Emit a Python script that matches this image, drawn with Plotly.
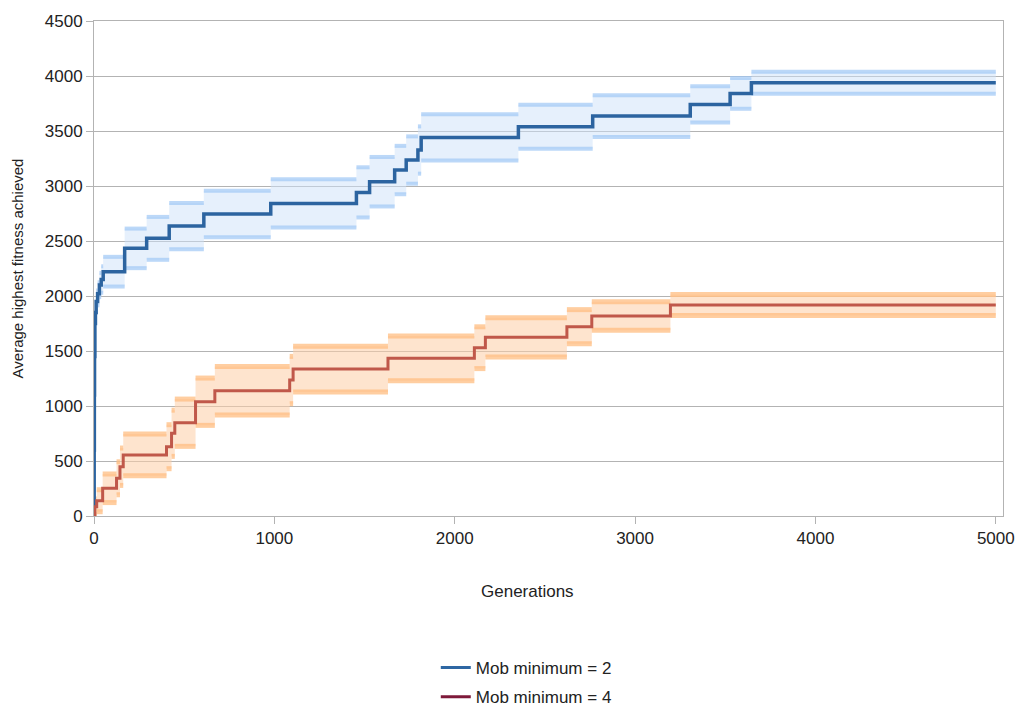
import plotly.graph_objects as go

# Series A: Mob minimum = 2
gen_a = [0, 1, 2, 3, 5, 8, 12, 20, 30, 40, 51, 170, 292, 417, 609, 980, 1455, 1528, 1667,
         1731, 1796, 1814, 2353, 2765, 3306, 3527, 3645, 5000]
fit_a = [100, 600, 1100, 1450, 1750, 1850, 1950, 2020, 2100, 2150, 2221, 2433, 2524, 2636,
         2745, 2842, 2942, 3039, 3145, 3236, 3327, 3442, 3539, 3636, 3742, 3842, 3939, 3939]
err_a = [50, 60, 70, 80, 90, 95, 100, 105, 110, 120, 135, 180, 195, 210, 212, 220, 228, 225,
         220, 215, 215, 211, 200, 190, 165, 140, 100, 100]

# Series B: Mob minimum = 4
gen_b = [0, 5, 15, 48, 125, 144, 162, 402, 430, 448, 563, 670, 1085, 1104, 1630, 2109, 2170,
         2622, 2760, 3196, 5000]
fit_b = [0, 85, 139, 252, 343, 448, 555, 630, 752, 848, 1039, 1139, 1236, 1336, 1433, 1530,
         1624, 1721, 1818, 1918, 1918]
err_b = [40, 70, 100, 130, 150, 170, 190, 200, 210, 215, 215, 220, 215, 208, 203, 190, 178,
         155, 130, 95, 95]

names = ["Mob minimum = 2", "Mob minimum = 4"]
x_ticks = [0, 1000, 2000, 3000, 4000, 5000]
y_ticks = [0, 500, 1000, 1500, 2000, 2500, 3000, 3500, 4000, 4500]

FONT = "Liberation Sans, Arial, sans-serif"
TXT = "#222222"
GRID = "#b3b3b3"


def stripes(g, v, e, sign):
    xs, ys = [], []
    for i in range(len(g) - 1):
        y = v[i] + sign * e[i]
        xs += [g[i], g[i + 1], None]
        ys += [y, y, None]
    return xs, ys


fig = go.Figure()


def add_band(g, v, e, fillcol, stripecol, sw):
    up = [a + b for a, b in zip(v, e)]
    lo = [a - b for a, b in zip(v, e)]
    fig.add_trace(go.Scatter(x=g, y=up, mode="lines", line=dict(width=0, shape="hv"),
                             showlegend=False, hoverinfo="skip"))
    fig.add_trace(go.Scatter(x=g, y=lo, mode="lines", line=dict(width=0, shape="hv"),
                             fill="tonexty", fillcolor=fillcol, showlegend=False,
                             hoverinfo="skip"))
    for s in (1, -1):
        xs, ys = stripes(g, v, e, s)
        fig.add_trace(go.Scatter(x=xs, y=ys, mode="lines",
                                 line=dict(width=sw, color=stripecol),
                                 showlegend=False, hoverinfo="skip"))


add_band(gen_a, fit_a, err_a, "rgba(205,225,250,0.5)", "rgba(160,200,245,0.7)", 4)
add_band(gen_b, fit_b, err_b, "rgba(253,205,165,0.55)", "rgba(255,190,130,0.75)", 5)

fig.add_trace(go.Scatter(x=gen_a, y=fit_a, mode="lines",
                         line=dict(color="#2c64a0", width=3.5, shape="hv"),
                         showlegend=False))
fig.add_trace(go.Scatter(x=gen_b, y=fit_b, mode="lines",
                         line=dict(color="#c0584a", width=3, shape="hv"),
                         showlegend=False))

# legend entries
fig.add_trace(go.Scatter(x=[None], y=[None], mode="lines", name=names[0],
                         line=dict(color="#2e67a3", width=3), legend="legend"))
fig.add_trace(go.Scatter(x=[None], y=[None], mode="lines", name=names[1],
                         line=dict(color="#7e1a3a", width=3), legend="legend2"))

leg_common = dict(font=dict(family=FONT, size=17, color=TXT), bgcolor="rgba(0,0,0,0)",
                  xanchor="left", yanchor="middle", borderwidth=0)

fig.update_layout(
    width=1017, height=711,
    margin=dict(l=93.5, r=14, t=21, b=195, autoexpand=False),
    paper_bgcolor="white", plot_bgcolor="white",
    font=dict(family=FONT, size=17, color=TXT),
    legend=dict(x=0.376, y=-0.307, **leg_common),
    legend2=dict(x=0.376, y=-0.366, **leg_common),
    xaxis=dict(range=[0, 5040], tickvals=x_ticks, showgrid=False, zeroline=False,
               showline=True, linecolor=GRID, linewidth=1, mirror=True,
               ticks="outside", ticklen=7, tickcolor=GRID, automargin=False),
    yaxis=dict(range=[0, 4500], tickvals=y_ticks, showgrid=True, gridcolor=GRID,
               gridwidth=1, zeroline=False, showline=True, linecolor=GRID, linewidth=1,
               mirror=True, ticks="outside", ticklen=7, tickcolor=GRID, automargin=False,
               title=dict(text="Average highest fitness achieved", font=dict(size=15),
                          standoff=17)),
    annotations=[dict(text="Generations", xref="paper", yref="paper",
                      x=(527 - 93.5) / 909.5, y=-(591 - 516) / 495,
                      xanchor="center", yanchor="middle", showarrow=False,
                      font=dict(family=FONT, size=17, color=TXT))],
)

fig.write_html("out.html")
